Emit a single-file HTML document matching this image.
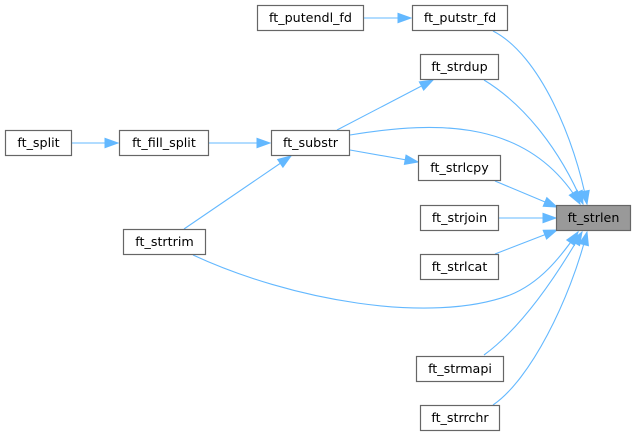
<!DOCTYPE html>
<html><head><meta charset="utf-8"><style>
html,body{margin:0;padding:0;background:#fff;}
svg{display:block;}
text{font-family:"DejaVu Sans","Liberation Sans",sans-serif;font-size:12.7px;fill:#000;text-anchor:middle;}
.n{fill:#fff;stroke:#666;stroke-width:1.2;}
.e{fill:none;stroke:#63b8ff;stroke-width:1.1;}
</style></head><body>
<svg width="636" height="436" viewBox="0 0 636 436" xmlns="http://www.w3.org/2000/svg">
<defs>
<marker id="a" markerUnits="userSpaceOnUse" markerWidth="16" markerHeight="12" refX="13" refY="4.7" orient="auto" overflow="visible">
<path d="M0,0 L13,4.7 L0,9.4z" fill="#63b8ff" stroke="#63b8ff" stroke-width="1"/>
</marker>
</defs>
<!-- edges -->
<path class="e" d="M364,18 L411,18" marker-end="url(#a)"/>
<path class="e" d="M72,143 L118,143" marker-end="url(#a)"/>
<path class="e" d="M209,143 L270,143" marker-end="url(#a)"/>
<path class="e" d="M184,229 L291,156" marker-end="url(#a)"/>
<path class="e" d="M337,130 L433,80" marker-end="url(#a)"/>
<path class="e" d="M350,150 L418,162" marker-end="url(#a)"/>
<path class="e" d="M350,135 C440,120 530,120 580,204" marker-end="url(#a)"/>
<path class="e" d="M493,31 C540,55 575,140 587,204" marker-end="url(#a)"/>
<path class="e" d="M484,80 C525,105 560,150 583,204" marker-end="url(#a)"/>
<path class="e" d="M495,181 L557,207" marker-end="url(#a)"/>
<path class="e" d="M499,218 L556,218" marker-end="url(#a)"/>
<path class="e" d="M495,254 L557,230" marker-end="url(#a)"/>
<path class="e" d="M193,255 C290,300 430,325 510,295 C540,283 560,258 578,232" marker-end="url(#a)"/>
<path class="e" d="M484,355 C525,325 560,270 582,232" marker-end="url(#a)"/>
<path class="e" d="M493,405 C530,380 570,300 587,232" marker-end="url(#a)"/>
<!-- nodes -->
<rect class="n" x="257.5" y="5.5" width="106" height="25"/><text x="310.5" y="22">ft_putendl_fd</text>
<rect class="n" x="412.5" y="5.5" width="95" height="25"/><text x="460" y="22">ft_putstr_fd</text>
<rect class="n" x="420.5" y="54.5" width="78" height="25"/><text x="459.5" y="71">ft_strdup</text>
<rect class="n" x="5.5" y="130.5" width="66" height="25"/><text x="38.5" y="147">ft_split</text>
<rect class="n" x="119.5" y="130.5" width="89" height="25"/><text x="164" y="147">ft_fill_split</text>
<rect class="n" x="271.5" y="130.5" width="78" height="25"/><text x="310.5" y="147">ft_substr</text>
<rect class="n" x="418.5" y="155.5" width="82" height="25"/><text x="459.5" y="172">ft_strlcpy</text>
<rect class="n" x="420.5" y="205.5" width="78" height="25"/><text x="459.5" y="222">ft_strjoin</text>
<rect x="556.5" y="205.5" width="74" height="25" fill="#999" stroke="#666" stroke-width="1.2"/><text x="593.5" y="222">ft_strlen</text>
<rect class="n" x="123.5" y="229.5" width="82" height="25"/><text x="164.5" y="246">ft_strtrim</text>
<rect class="n" x="420.5" y="254.5" width="78" height="25"/><text x="459.5" y="271">ft_strlcat</text>
<rect class="n" x="416.5" y="356.5" width="87" height="25"/><text x="460" y="373">ft_strmapi</text>
<rect class="n" x="420.5" y="405.5" width="79" height="25"/><text x="460" y="422">ft_strrchr</text>
</svg>
</body></html>
